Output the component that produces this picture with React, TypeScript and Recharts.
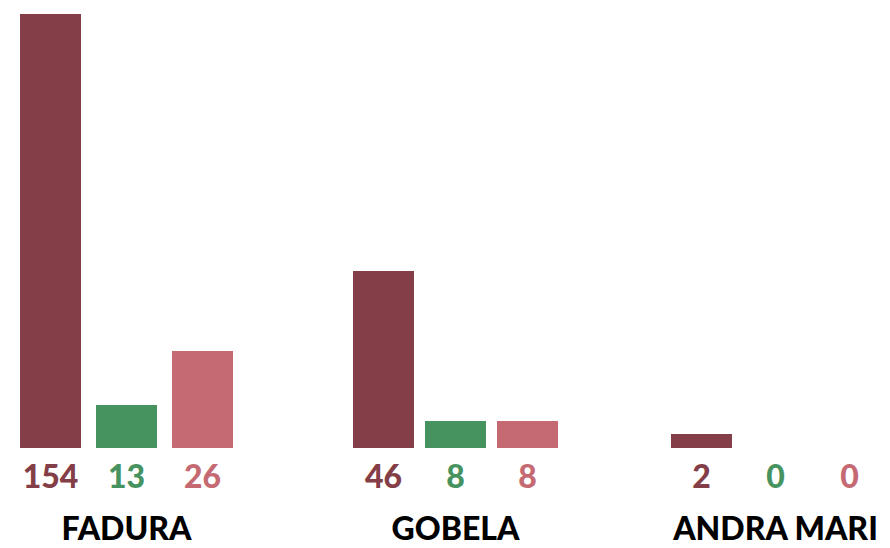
import { BarChart, Bar, XAxis, YAxis } from 'recharts'

// categories and the numbers printed under the bars
const CATEGORIES = ['FADURA', 'GOBELA', 'ANDRA MARI']
const VALUES_A = [154, 46, 2]
const VALUES_B = [13, 8, 0]
const VALUES_C = [26, 8, 0]

// bar heights as drawn (same units as the tallest bar = 154)
const HEIGHTS_A = [154, 62.8, 5]
const HEIGHTS_B = [15.3, 9.6, 0]
const HEIGHTS_C = [34.4, 9.6, 0]

const COLORS = ['#843e47', '#47935f', '#c56a73']
const FONT = "Lato, 'DejaVu Sans', sans-serif"

// layout of each group (left edge of first bar, gap between bars)
const GROUP_START = [20, 353, 671]
const GROUP_GAP = [15, 11, 13]
const BAR_SIZE = 61
const CHART_W = 301
const CHART_H = 548

function GroupTick(props: any) {
  const { x, y, payload, index, gap, offset } = props
  const gi = CATEGORIES.indexOf(payload.value)
  const values = [VALUES_A[gi], VALUES_B[gi], VALUES_C[gi]]
  // x is the band centre; work out each bar's centre from it
  const firstCenter = x - CHART_W / 2 + offset + BAR_SIZE / 2
  return (
    <g key={index}>
      {values.map((v, i) => (
        <text
          key={i}
          x={firstCenter + i * (BAR_SIZE + gap)}
          y={488}
          textAnchor="middle"
          fill={COLORS[i]}
          fontSize={32}
          fontWeight={900}
          fontFamily={FONT}
        >
          {v}
        </text>
      ))}
      <text
        x={x}
        y={y + 22}
        textAnchor="middle"
        fill="#000"
        fontSize={32}
        fontWeight={900}
        fontFamily={FONT}
      >
        {payload.value}
      </text>
    </g>
  )
}

function Group({ index }: { index: number }) {
  const gap = GROUP_GAP[index]
  const total = BAR_SIZE * 3 + gap * 2
  const offset = (CHART_W - total) / 2
  const left = GROUP_START[index] - offset

  const data = [
    {
      name: CATEGORIES[index],
      a: HEIGHTS_A[index],
      b: HEIGHTS_B[index],
      c: HEIGHTS_C[index],
    },
  ]

  return (
    <div style={{ position: 'absolute', left, top: 0 }}>
      <BarChart
        width={CHART_W}
        height={CHART_H}
        data={data}
        margin={{ top: 14, right: 0, bottom: 0, left: 0 }}
        barSize={BAR_SIZE}
        barGap={gap}
      >
        <XAxis
          dataKey="name"
          height={100}
          axisLine={false}
          tickLine={false}
          tickSize={0}
          tickMargin={70}
          interval={0}
          tick={<GroupTick gap={gap} offset={offset} />}
        />
        <YAxis hide domain={[0, 154]} allowDataOverflow />
        <Bar dataKey="a" fill={COLORS[0]} isAnimationActive={false} />
        <Bar dataKey="b" fill={COLORS[1]} isAnimationActive={false} />
        <Bar dataKey="c" fill={COLORS[2]} isAnimationActive={false} />
      </BarChart>
    </div>
  )
}

export default function App() {
  return (
    <div
      style={{
        position: 'absolute',
        left: 0,
        top: 0,
        width: 890,
        height: 548,
        overflow: 'hidden',
        background: '#fff',
      }}
    >
      {CATEGORIES.map((_, i) => (
        <Group key={i} index={i} />
      ))}
    </div>
  )
}
